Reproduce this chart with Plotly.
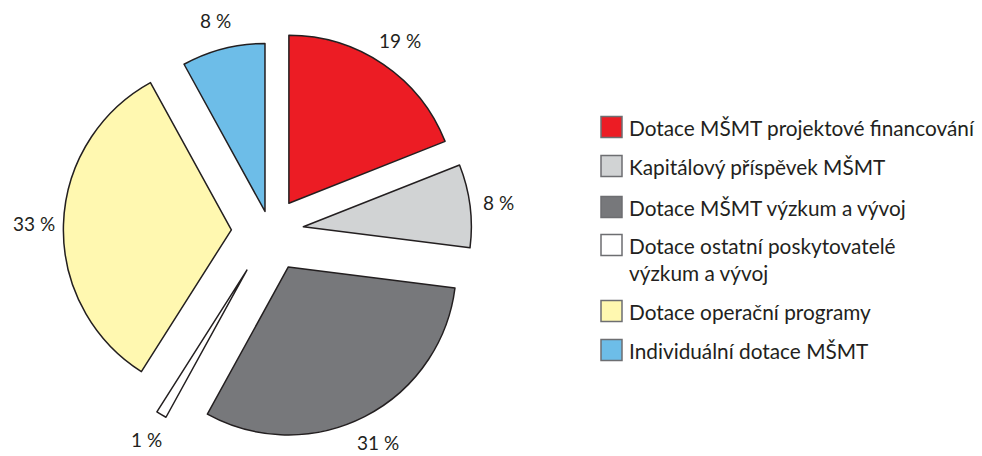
import math
import plotly.graph_objects as go

labels = [
    "Dotace MŠMT projektové financování",
    "Kapitálový příspěvek MŠMT",
    "Dotace MŠMT výzkum a vývoj",
    "Dotace ostatní poskytovatelé<br>výzkum a vývoj",
    "Dotace operační programy",
    "Individuální dotace MŠMT",
]
values = [19, 8, 31, 1, 33, 8]

colors = ["#ec1c24", "#d1d3d4", "#77787b", "#ffffff", "#fff8b0", "#6dbde8"]
pulls = [0.20, 0.20, 0.24, 0.27, 0.23, 0.12]

FONT = "Lato"
TXT = "#231f20"
W, H = 982, 456

# pie geometry (pixels)
CX, CY, R = 270, 231, 168
half = R * (1 + max(pulls))
dom_x = [(CX - half) / W, (CX + half) / W]
dom_y = [1 - (CY + half) / H, 1 - (CY - half) / H]

fig = go.Figure()
fig.add_trace(go.Pie(
    labels=labels,
    values=values,
    sort=False,
    direction="clockwise",
    rotation=0,
    pull=pulls,
    marker=dict(colors=colors, line=dict(color="#231f20", width=1.5)),
    textinfo="none",
    showlegend=False,
    hoverinfo="label+percent",
    domain=dict(x=dom_x, y=dom_y),
))

# percentage labels placed radially outside each slice (derived from values)
total = sum(values)
cum = 0
GAP = 29
for v, p in zip(values, pulls):
    mid = (cum + v / 2) / total * 2 * math.pi
    cum += v
    dist = R * (1 + p) + GAP
    px = CX + dist * math.sin(mid)
    py = CY - dist * math.cos(mid)
    fig.add_annotation(xref="paper", yref="paper", x=px / W, y=1 - py / H,
                       xanchor="center", yanchor="middle", showarrow=False,
                       text=f"{v} %",
                       font=dict(family=FONT, size=19, color=TXT))

# legend built from the same labels / colors
leg_y = [127, 166, 207, 245, 311, 350]  # pixel centres from top
for lab, col, yy in zip(labels, colors, leg_y):
    yc = 1 - yy / H
    fig.add_shape(type="rect", xref="paper", yref="paper",
                  x0=601 / W, x1=622 / W,
                  y0=yc - 10.5 / H, y1=yc + 10.5 / H,
                  fillcolor=col, line=dict(color="#6d6e71", width=1.5))
    fig.add_annotation(xref="paper", yref="paper",
                       x=627 / W, y=yc + 14 / H,
                       xanchor="left", yanchor="top", align="left",
                       text=lab, showarrow=False,
                       font=dict(family=FONT, size=20.8, color=TXT))

fig.update_layout(
    width=W, height=H,
    margin=dict(l=0, r=0, t=0, b=0, autoexpand=False),
    paper_bgcolor="white", plot_bgcolor="white",
    showlegend=False,
)
fig.write_html("out.html", config={"displayModeBar": False},
               post_script="document.body.style.margin='0px';")
